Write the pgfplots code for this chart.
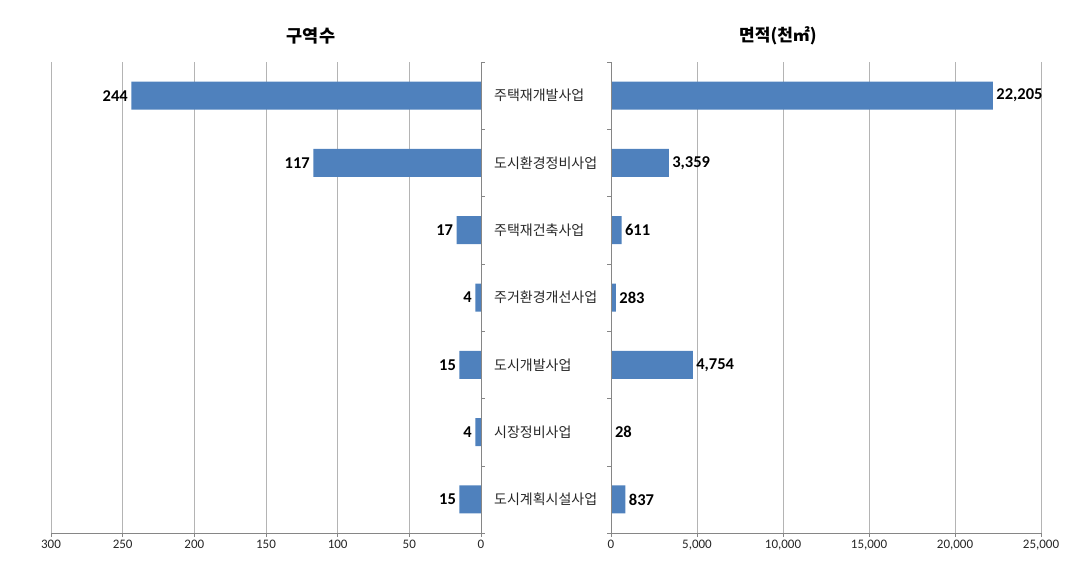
\documentclass[border=0pt]{standalone}
\usepackage{pgfplots}
\pgfplotsset{compat=1.18}
\usepackage{fontspec}
\setmainfont{Carlito}
\newfontfamily\kr{Noto Sans CJK KR}
\definecolor{barblue}{HTML}{4F81BD}
\definecolor{gridgray}{HTML}{B4B4B4}
\definecolor{axisgray}{HTML}{868686}
\definecolor{txt}{HTML}{262626}
\tikzset{vlab/.style={font=\bfseries\fontsize{16.5}{16.5}\selectfont, text=black}}
\pgfplotsset{
  common/.style={
    scale only axis, width=430pt, height=471pt,
    ymin=-0.5, ymax=6.5, y dir=reverse, ytick=\empty,
    axis x line*=bottom, axis y line=none,
    axis line style={axisgray},
    xmajorgrids, major grid style={gridgray, line width=0.6pt},
    tick align=outside, major tick length=4pt,
    every tick/.style={axisgray},
    tick label style={font=\fontsize{13}{13}\selectfont, text=txt},
    /pgf/number format/assume math mode=true,
    /pgf/number format/1000 sep={,},
    scaled x ticks=false,
    xbar, bar width=28pt,
    clip=false,
  },
}
\begin{document}
\begin{tikzpicture}
\useasboundingbox (0,0) rectangle (1088pt,574pt);
% left panel
\begin{axis}[common,
  at={(51pt,41pt)}, anchor=south west,
  xmin=0, xmax=300, x dir=reverse, xtick={0,50,...,300},
  nodes near coords, nodes near coords style={vlab, anchor=east},
]
\addplot[fill=barblue, draw=none] coordinates {(244,0) (117,1) (17,2) (4,3) (15,4) (4,5) (15,6)};
\draw[axisgray] (axis cs:0,-0.5) -- (axis cs:0,6.5);
\draw[axisgray] (axis cs:0,-0.5) -- ++(4pt,0pt);
\draw[axisgray] (axis cs:0,0.5) -- ++(4pt,0pt);
\draw[axisgray] (axis cs:0,1.5) -- ++(4pt,0pt);
\draw[axisgray] (axis cs:0,2.5) -- ++(4pt,0pt);
\draw[axisgray] (axis cs:0,3.5) -- ++(4pt,0pt);
\draw[axisgray] (axis cs:0,4.5) -- ++(4pt,0pt);
\draw[axisgray] (axis cs:0,5.5) -- ++(4pt,0pt);
\draw[axisgray] (axis cs:0,6.5) -- ++(4pt,0pt);
\end{axis}
% right panel
\begin{axis}[common,
  at={(611pt,41pt)}, anchor=south west,
  xmin=0, xmax=25000, xtick={0,5000,...,25000},
  nodes near coords, nodes near coords style={vlab, anchor=west},
]
\addplot[fill=barblue, draw=none] coordinates {(22205,0) (3359,1) (611,2) (283,3) (4754,4) (28,5) (837,6)};
\draw[axisgray] (axis cs:0,-0.5) -- (axis cs:0,6.5);
\draw[axisgray] (axis cs:0,-0.5) -- ++(-4pt,0pt);
\draw[axisgray] (axis cs:0,0.5) -- ++(-4pt,0pt);
\draw[axisgray] (axis cs:0,1.5) -- ++(-4pt,0pt);
\draw[axisgray] (axis cs:0,2.5) -- ++(-4pt,0pt);
\draw[axisgray] (axis cs:0,3.5) -- ++(-4pt,0pt);
\draw[axisgray] (axis cs:0,4.5) -- ++(-4pt,0pt);
\draw[axisgray] (axis cs:0,5.5) -- ++(-4pt,0pt);
\draw[axisgray] (axis cs:0,6.5) -- ++(-4pt,0pt);
\begin{scope}[every node/.style={anchor=west, inner sep=0pt, xshift=-117pt, font=\kr\fontsize{14}{14}\selectfont, text=txt}]
\node at (axis cs:0,0) {주택재개발사업};
\node at (axis cs:0,1) {도시환경정비사업};
\node at (axis cs:0,2) {주택재건축사업};
\node at (axis cs:0,3) {주거환경개선사업};
\node at (axis cs:0,4) {도시개발사업};
\node at (axis cs:0,5) {시장정비사업};
\node at (axis cs:0,6) {도시계획시설사업};
\end{scope}
\end{axis}
\node[font=\kr\bfseries\fontsize{17.5}{17.5}\selectfont] at (311pt,538pt) {구역수};
\node[font=\kr\bfseries\fontsize{17}{17}\selectfont] at (778pt,538pt) {면적(천㎡)};
\end{tikzpicture}
\end{document}
